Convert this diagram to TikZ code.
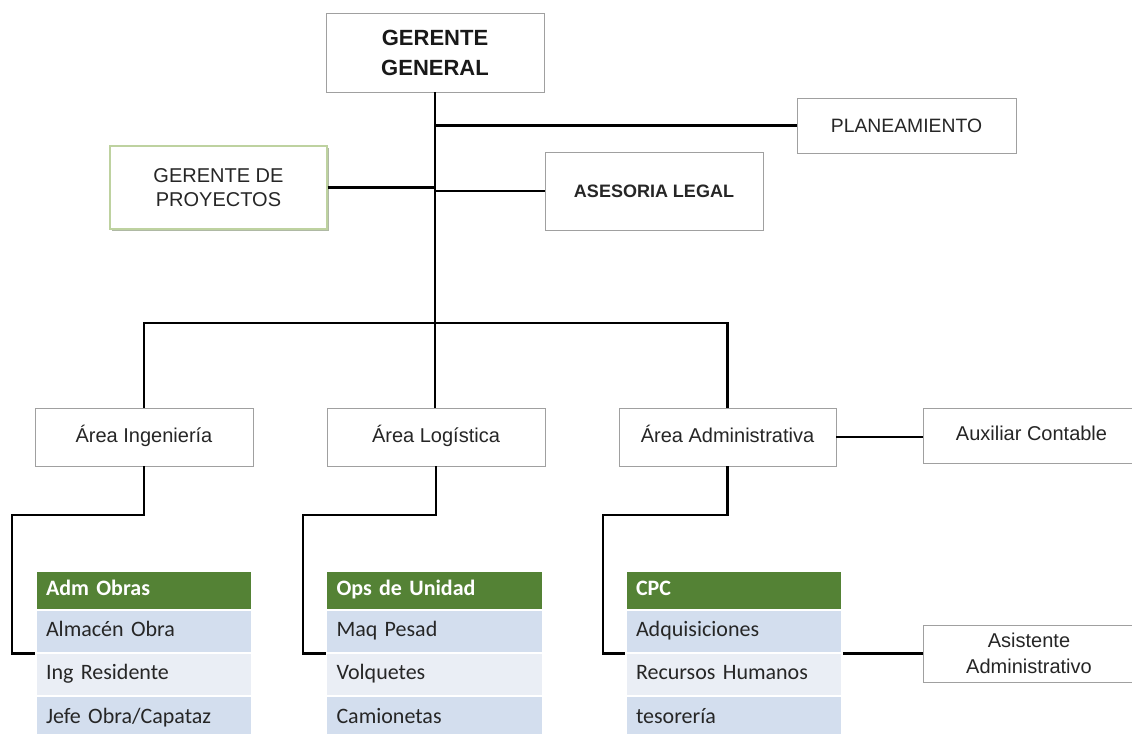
\documentclass[tikz,border=0pt]{standalone}
\usepackage{fontspec}
\setmainfont{Liberation Sans}
\newfontfamily\calfont{Carlito}
\usetikzlibrary{shadows}
\definecolor{boxline}{RGB}{160,160,160}
\definecolor{gpline}{RGB}{190,210,160}
\definecolor{gpshadow}{RGB}{175,185,165}
\definecolor{hdr}{RGB}{84,130,53}
\definecolor{rowA}{RGB}{211,222,238}
\definecolor{rowB}{RGB}{234,238,245}
\definecolor{txt}{RGB}{38,38,38}
\begin{document}
\begin{tikzpicture}[x=0.75pt,y=-0.75pt,
  sz/.style 2 args={minimum width=#1*0.75pt, minimum height=#2*0.75pt},
  boxbase/.style={draw=boxline, line width=0.6pt, fill=white, inner sep=0pt, align=center, text=txt},
  box/.style={boxbase, drop shadow={shadow xshift=0.9pt, shadow yshift=-0.9pt, fill=gray!60, opacity=1}},
  gpbox/.style={boxbase, draw=gpline, line width=0.9pt, drop shadow={shadow xshift=1.8pt, shadow yshift=-1.8pt, fill=gpshadow, opacity=1}},
  area/.style={font=\fontsize{15}{18}\selectfont, text height=11pt, text depth=3pt},
  conn/.style={draw=black, line width=2pt},
  rowbase/.style={draw=white, line width=1.2pt, inner ysep=0pt, inner xsep=7.5pt, text width=147pt, align=left, text=txt, text height=11.5pt, text depth=3.5pt, font=\calfont\fontsize{16.5}{18}\selectfont},
  hdrrow/.style={rowbase, fill=hdr, text=white, font=\calfont\bfseries\fontsize{16.5}{18}\selectfont},
  rowa/.style={rowbase, fill=rowA},
  rowb/.style={rowbase, fill=rowB}
  ]
\fill[white] (0,0) rectangle (1132,733);
\useasboundingbox (0,0) rectangle (1132,733);

% top level
\node[box, sz={218}{79}, font=\bfseries\fontsize{16.5}{22.5}\selectfont, text=black!90] (gg) at (435,52.5) {GERENTE\\GENERAL};
\node[box, sz={219}{55}, font=\fontsize{14.5}{17}\selectfont] (plan) at (906.5,125.5) {PLANEAMIENTO};
\node[gpbox, sz={217}{83}, font=\fontsize{15}{17.5}\selectfont] (gp) at (218.5,187.5) {GERENTE DE\\PROYECTOS};
\node[box, sz={218}{78}, font=\bfseries\fontsize{13.5}{16}\selectfont] (asl) at (654,191) {ASESORIA LEGAL};

% areas
\node[box, area, sz={218}{58}] (ai) at (144,437) {Área Ingeniería};
\node[box, area, sz={218}{58}] (al) at (436,437) {Área Logística};
\node[box, area, sz={217}{58}] (aa) at (727.5,437) {Área Administrativa};
\node[box, area, sz={217}{55}] (ac) at (1031.5,435.5) {Auxiliar Contable};
\node[box, sz={212}{57}, font=\fontsize{15}{20}\selectfont] (asis) at (1029,653.5) {Asistente\\Administrativo};

% table 1
\node[hdrrow, sz={216}{39}] (t1h) at (144,590.5) {Adm Obras};
\node[rowa, sz={216}{43}] (t1a) at (144,631.5) {Almacén Obra};
\node[rowb, sz={216}{43}] (t1b) at (144,674.5) {Ing Residente};
\node[rowa, sz={216}{44}] (t1c) at (144,718) {Jefe Obra/Capataz};
% table 2
\node[hdrrow, sz={215}{39}] (t2h) at (434.5,590.5) {Ops de Unidad};
\node[rowa, sz={215}{43}] (t2a) at (434.5,631.5) {Maq Pesad};
\node[rowb, sz={215}{43}] (t2b) at (434.5,674.5) {Volquetes};
\node[rowa, sz={215}{44}] (t2c) at (434.5,718) {Camionetas};
% table 3
\node[hdrrow, sz={216}{39}] (t3h) at (734,590.5) {CPC};
\node[rowa, sz={216}{43}] (t3a) at (734,631.5) {Adquisiciones};
\node[rowb, sz={216}{43}] (t3b) at (734,674.5) {Recursos Humanos};
\node[rowa, sz={216}{44}] (t3c) at (734,718) {tesorería};

% connectors
\coordinate (hub) at (435,323);
\coordinate (b1) at (12,515);
\coordinate (b2) at (303,515);
\coordinate (b3) at (603,515);
\draw[conn] (gg.south) -- (gg.south |- al.north);
\draw[conn] (ai.north) |- (hub) -| (aa.north);
\draw[conn] (gg.south |- plan.west) -- (plan.west);
\draw[conn] (gp.east) -- (gp.east -| gg.south);
\draw[conn] (gg.south |- asl.west) -- (asl.west);
\draw[conn] (aa.east) -- (aa.east -| ac.west);
\draw[conn] (ai.south) |- (b1) |- (t1a.south west);
\draw[conn] (al.south) |- (b2) |- (t2a.south west);
\draw[conn] (aa.south) |- (b3) |- (t3a.south west);
\draw[conn] (t3a.south east) -- (t3a.south east -| asis.west);
\end{tikzpicture}
\end{document}
